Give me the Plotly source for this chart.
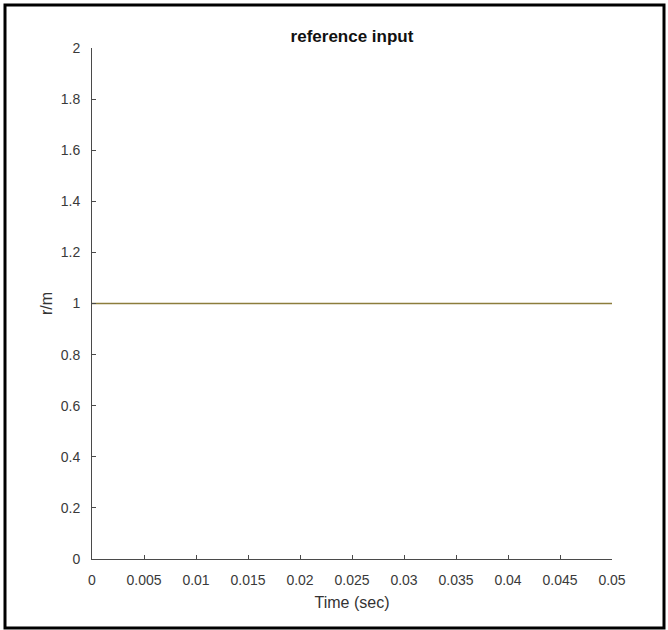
import plotly.graph_objects as go

time_sec = [0.0, 0.05]
r_values = [1.0, 1.0]
x_ticks = [0, 0.005, 0.01, 0.015, 0.02, 0.025, 0.03, 0.035, 0.04, 0.045, 0.05]
x_tick_labels = ["0", "0.005", "0.01", "0.015", "0.02", "0.025", "0.03", "0.035", "0.04", "0.045", "0.05"]
y_ticks = [0, 0.2, 0.4, 0.6, 0.8, 1, 1.2, 1.4, 1.6, 1.8, 2]
y_tick_labels = ["0", "0.2", "0.4", "0.6", "0.8", "1", "1.2", "1.4", "1.6", "1.8", "2"]

W, H = 668, 630
L, R, T, B = 92, 612, 48, 559

fig = go.Figure()
fig.add_trace(go.Scatter(x=time_sec, y=r_values, mode="lines",
                         line=dict(color="#8c7d3c", width=1.5), showlegend=False))

font = "Liberation Sans, Arial, sans-serif"
axis_common = dict(showgrid=False, zeroline=False, showline=True, linecolor="#4a4a4a",
                   linewidth=1, ticks="inside", ticklen=4, tickcolor="#4a4a4a",
                   tickfont=dict(family=font, size=14, color="#3a3a3a"), mirror=False)

fig.update_layout(
    width=W, height=H,
    margin=dict(l=L, r=W - R, t=T, b=H - B),
    paper_bgcolor="white", plot_bgcolor="white",
    title=dict(text="<b>reference input</b>", x=352 / W, xanchor="center",
               y=1 - 36 / H, yanchor="middle",
               font=dict(family=font, size=17, color="#111111")),
    xaxis=dict(range=[0, 0.05], tickvals=x_ticks, ticktext=x_tick_labels,
               ticklabelstandoff=8,
               title=dict(text="Time (sec)", font=dict(family=font, size=16, color="#333333"),
                          standoff=10), **axis_common),
    yaxis=dict(range=[0, 2], tickvals=y_ticks, ticktext=y_tick_labels,
               ticklabelstandoff=8,
               title=dict(text="r/m", font=dict(family=font, size=16, color="#333333"),
                          standoff=4), **axis_common),
)

def px_x(p):
    return (p - L) / (R - L)

def px_y(p):
    return (B - p) / (B - T)

# outer frame of the figure
fig.add_shape(type="rect", xref="paper", yref="paper",
              x0=px_x(5), x1=px_x(664), y0=px_y(628), y1=px_y(5),
              line=dict(color="black", width=3), fillcolor="rgba(0,0,0,0)", layer="above")

fig.write_html("out.html", config={"displayModeBar": False},
               post_script="document.body.style.margin='0';document.body.style.overflow='hidden';")
